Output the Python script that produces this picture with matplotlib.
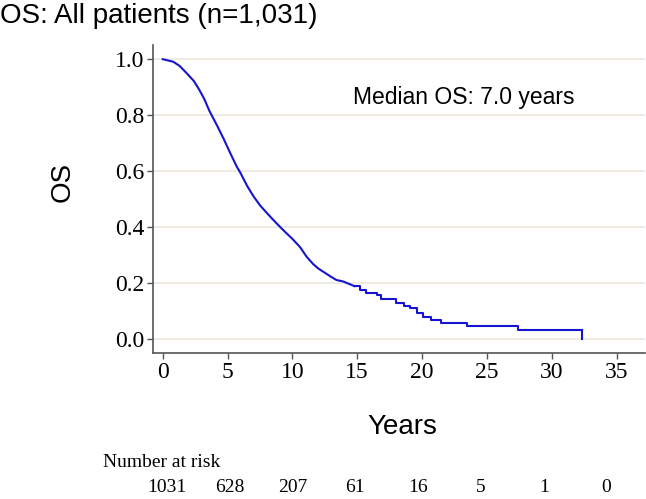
import matplotlib.pyplot as plt

plt.rcParams['font.family'] = ['Liberation Sans', 'DejaVu Sans']

# Kaplan-Meier estimate (years, survival)
km_time = [0, 0.8, 1.3, 1.8, 2.4, 2.8, 3.2, 3.6, 4.2, 4.7, 5.2, 5.7, 6.0, 6.5, 7.0,
           7.5, 8.0, 8.5, 9.0, 9.5, 10.0, 10.6, 11.1, 11.6, 12.0, 12.5, 13.0, 13.4,
           13.9, 14.8, 15.2, 15.7, 16.5, 16.8, 17.5, 18.0, 18.6, 19.1, 19.6, 20.1,
           20.7, 21.5, 23.5, 27.4, 32.3]
km_surv = [1.0, 0.991, 0.976, 0.952, 0.922, 0.892, 0.858, 0.815, 0.762, 0.715, 0.665,
           0.617, 0.593, 0.548, 0.51, 0.478, 0.452, 0.427, 0.403, 0.38, 0.358, 0.328,
           0.294, 0.268, 0.252, 0.237, 0.222, 0.211, 0.206, 0.189, 0.175, 0.163,
           0.157, 0.143, 0.143, 0.128, 0.118, 0.11, 0.092, 0.08, 0.068, 0.056,
           0.048, 0.032, 0.032]
last_followup = 32.3

risk_years = [0, 5, 10, 15, 20, 25, 30, 35]
risk_counts = [1031, 628, 207, 61, 16, 5, 1, 0]
y_ticks = [0.0, 0.2, 0.4, 0.6, 0.8, 1.0]

blue = '#1414d2'
fig = plt.figure(figsize=(6.46, 4.99), dpi=100)
ax = fig.add_axes([0.2375, 0.293, 0.761, 0.617])

# dense early part looks continuous, the tail shows clear steps
n_smooth = 30
ax.plot(km_time[:n_smooth], km_surv[:n_smooth], color=blue, lw=1.5, zorder=3)
ax.step(km_time[n_smooth - 1:], km_surv[n_smooth - 1:], where='post', color=blue,
        lw=1.5, zorder=3)
ax.plot([last_followup, last_followup], [km_surv[-1], 0.0], color=blue, lw=1.5, zorder=3)

ax.set_xlim(-0.72, 37.2)
ax.set_ylim(-0.049, 1.051)
ax.set_xticks(risk_years)
ax.set_yticks(y_ticks)
ax.set_yticklabels([f'{v:.1f}' for v in y_ticks])
for lbl in ax.get_xticklabels() + ax.get_yticklabels():
    lbl.set_family('Liberation Serif')
    lbl.set_fontsize(17)
ax.tick_params(colors='#555555', labelcolor='black', length=4.5, width=1, pad=2)
ax.grid(axis='y', color='#ece8dc', lw=1.2)
ax.set_axisbelow(True)
for s in ['top', 'right']:
    ax.spines[s].set_visible(False)
for s in ['left', 'bottom']:
    ax.spines[s].set_color('#555555')
    ax.spines[s].set_linewidth(1.2)

ax.set_ylabel('OS', fontsize=20)
ax.yaxis.set_label_coords(-0.158, 0.555)
ax.set_xlabel('Years', fontsize=20)
ax.xaxis.set_label_coords(0.506, -0.20)
ax.text(23.2, 0.864, 'Median OS: 7.0 years', fontsize=16.5, ha='center', va='center')
fig.text(0.0, 0.968, 'OS: All patients (n=1,031)', fontsize=20, ha='left', va='center')

# number at risk table
fig.text(0.159, 0.074, 'Number at risk', fontsize=14, family='Liberation Serif',
         ha='left', va='center')
for i, n in enumerate(risk_counts):
    fig.text(0.2585 + i * 0.0972, 0.024, str(n), fontsize=14, family='Liberation Serif',
             ha='center', va='center')

fig.savefig('out.png', dpi=100)
